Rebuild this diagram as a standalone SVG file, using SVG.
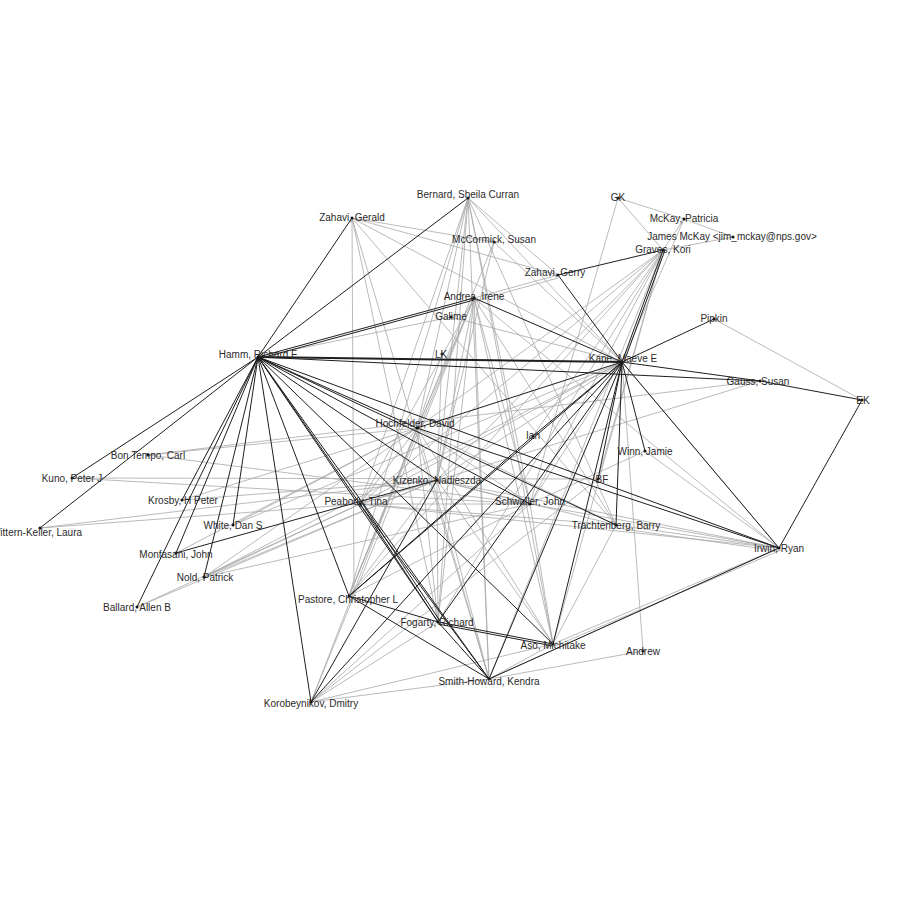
<svg xmlns="http://www.w3.org/2000/svg" width="900" height="900" viewBox="0 0 900 900">
<style>
.d{stroke:#1e1e1e;stroke-width:1;fill:none}
.w{stroke:#1e1e1e;stroke-width:2;fill:none}
.g{stroke:#a8a8a8;stroke-width:0.8;fill:none}
text{font-family:"Liberation Sans",Arial,sans-serif;font-size:10px;fill:#2a2a2a;text-anchor:middle}
circle{fill:#111}
</style>
<rect width="900" height="900" fill="#fff"/>
<g id="edges">
<!-- gray edges -->
<line class="g" x1="468" y1="198" x2="360" y2="504"/>
<line class="g" x1="468" y1="198" x2="437" y2="480"/>
<line class="g" x1="468" y1="198" x2="417" y2="428"/>
<line class="g" x1="468" y1="198" x2="349" y2="596"/>
<line class="g" x1="468" y1="198" x2="438" y2="622"/>
<line class="g" x1="468" y1="198" x2="489" y2="679"/>
<line class="g" x1="468" y1="198" x2="530" y2="504"/>
<line class="g" x1="468" y1="198" x2="622" y2="362"/>
<line class="g" x1="468" y1="198" x2="558" y2="275"/>
<line class="g" x1="468" y1="198" x2="553" y2="644"/>
<line class="g" x1="468" y1="198" x2="616" y2="525"/>
<line class="g" x1="352" y1="218" x2="494" y2="242"/>
<line class="g" x1="352" y1="218" x2="558" y2="275"/>
<line class="g" x1="352" y1="218" x2="622" y2="362"/>
<line class="g" x1="352" y1="218" x2="354" y2="596"/>
<line class="g" x1="352" y1="218" x2="438" y2="622"/>
<line class="g" x1="352" y1="218" x2="489" y2="679"/>
<line class="g" x1="352" y1="218" x2="616" y2="525"/>
<line class="g" x1="494" y1="242" x2="622" y2="362"/>
<line class="g" x1="494" y1="242" x2="349" y2="596"/>
<line class="g" x1="494" y1="242" x2="437" y2="480"/>
<line class="g" x1="474" y1="298" x2="558" y2="275"/>
<line class="g" x1="474" y1="301" x2="558" y2="278"/>
<line class="g" x1="474" y1="298" x2="360" y2="504"/>
<line class="g" x1="474" y1="298" x2="437" y2="480"/>
<line class="g" x1="474" y1="298" x2="417" y2="428"/>
<line class="g" x1="474" y1="298" x2="349" y2="596"/>
<line class="g" x1="474" y1="298" x2="438" y2="622"/>
<line class="g" x1="474" y1="298" x2="489" y2="679"/>
<line class="g" x1="474" y1="298" x2="553" y2="644"/>
<line class="g" x1="474" y1="298" x2="616" y2="525"/>
<line class="g" x1="474" y1="298" x2="530" y2="504"/>
<line class="g" x1="474" y1="298" x2="311" y2="702"/>
<line class="g" x1="474" y1="298" x2="779" y2="548"/>
<line class="g" x1="663" y1="250" x2="618" y2="198"/>
<line class="g" x1="663" y1="250" x2="684" y2="219"/>
<line class="g" x1="663" y1="250" x2="733" y2="237"/>
<line class="g" x1="663" y1="250" x2="417" y2="428"/>
<line class="g" x1="663" y1="250" x2="360" y2="504"/>
<line class="g" x1="663" y1="250" x2="437" y2="480"/>
<line class="g" x1="663" y1="250" x2="349" y2="596"/>
<line class="g" x1="663" y1="250" x2="438" y2="622"/>
<line class="g" x1="663" y1="250" x2="530" y2="504"/>
<line class="g" x1="663" y1="250" x2="598" y2="479"/>
<line class="g" x1="663" y1="250" x2="533" y2="436"/>
<line class="g" x1="663" y1="250" x2="489" y2="679"/>
<line class="g" x1="663" y1="250" x2="553" y2="644"/>
<line class="g" x1="684" y1="219" x2="622" y2="362"/>
<line class="g" x1="618" y1="198" x2="684" y2="219"/>
<line class="g" x1="618" y1="198" x2="530" y2="504"/>
<line class="g" x1="684" y1="219" x2="733" y2="237"/>
<line class="g" x1="258" y1="357" x2="451" y2="317"/>
<line class="g" x1="451" y1="317" x2="622" y2="362"/>
<line class="g" x1="714" y1="319" x2="862" y2="400"/>
<line class="g" x1="442" y1="354" x2="417" y2="428"/>
<line class="g" x1="442" y1="354" x2="437" y2="480"/>
<line class="g" x1="760" y1="381" x2="360" y2="504"/>
<line class="g" x1="760" y1="381" x2="148" y2="455"/>
<line class="g" x1="645" y1="451" x2="530" y2="504"/>
<line class="g" x1="645" y1="451" x2="779" y2="548"/>
<line class="g" x1="622" y1="362" x2="779" y2="548"/>
<line class="g" x1="148" y1="455" x2="417" y2="428"/>
<line class="g" x1="148" y1="455" x2="530" y2="504"/>
<line class="g" x1="72" y1="478" x2="598" y2="479"/>
<line class="g" x1="72" y1="478" x2="530" y2="504"/>
<line class="g" x1="182" y1="500" x2="437" y2="480"/>
<line class="g" x1="182" y1="500" x2="417" y2="428"/>
<line class="g" x1="40" y1="528" x2="437" y2="480"/>
<line class="g" x1="40" y1="528" x2="360" y2="504"/>
<line class="g" x1="233" y1="525" x2="417" y2="428"/>
<line class="g" x1="233" y1="525" x2="622" y2="362"/>
<line class="g" x1="176" y1="553" x2="417" y2="428"/>
<line class="g" x1="204" y1="577" x2="360" y2="504"/>
<line class="g" x1="204" y1="577" x2="437" y2="480"/>
<line class="g" x1="204" y1="577" x2="417" y2="428"/>
<line class="g" x1="204" y1="577" x2="530" y2="504"/>
<line class="g" x1="137" y1="607" x2="360" y2="504"/>
<line class="g" x1="137" y1="607" x2="437" y2="480"/>
<line class="g" x1="417" y1="428" x2="438" y2="622"/>
<line class="g" x1="417" y1="428" x2="489" y2="679"/>
<line class="g" x1="417" y1="428" x2="349" y2="596"/>
<line class="g" x1="417" y1="428" x2="311" y2="702"/>
<line class="g" x1="417" y1="428" x2="553" y2="644"/>
<line class="g" x1="417" y1="428" x2="616" y2="525"/>
<line class="g" x1="417" y1="428" x2="530" y2="504"/>
<line class="g" x1="437" y1="480" x2="779" y2="548"/>
<line class="g" x1="437" y1="480" x2="616" y2="525"/>
<line class="g" x1="437" y1="480" x2="530" y2="504"/>
<line class="g" x1="437" y1="480" x2="553" y2="644"/>
<line class="g" x1="437" y1="480" x2="489" y2="679"/>
<line class="g" x1="437" y1="480" x2="438" y2="622"/>
<line class="g" x1="437" y1="480" x2="349" y2="596"/>
<line class="g" x1="437" y1="480" x2="360" y2="504"/>
<line class="g" x1="360" y1="504" x2="616" y2="525"/>
<line class="g" x1="360" y1="504" x2="779" y2="548"/>
<line class="g" x1="360" y1="504" x2="530" y2="504"/>
<line class="g" x1="360" y1="504" x2="417" y2="428"/>
<line class="g" x1="616" y1="525" x2="779" y2="548"/>
<line class="g" x1="616" y1="528" x2="779" y2="551"/>
<line class="g" x1="616" y1="525" x2="553" y2="644"/>
<line class="g" x1="530" y1="504" x2="779" y2="548"/>
<line class="g" x1="530" y1="504" x2="553" y2="644"/>
<line class="g" x1="530" y1="504" x2="349" y2="596"/>
<line class="g" x1="530" y1="504" x2="311" y2="702"/>
<line class="g" x1="311" y1="702" x2="489" y2="679"/>
<line class="g" x1="311" y1="702" x2="553" y2="644"/>
<line class="g" x1="311" y1="702" x2="438" y2="622"/>
<line class="g" x1="311" y1="702" x2="598" y2="479"/>
<line class="g" x1="622" y1="362" x2="643" y2="651"/>
<line class="g" x1="553" y1="644" x2="779" y2="548"/>
<line class="g" x1="555" y1="646" x2="781" y2="550"/>
<line class="g" x1="489" y1="679" x2="779" y2="548"/>
<line class="g" x1="489" y1="679" x2="643" y2="651"/>
<line class="g" x1="489" y1="679" x2="553" y2="644"/>
<line class="g" x1="622" y1="362" x2="360" y2="504"/>
<line class="g" x1="622" y1="362" x2="437" y2="480"/>
<line class="g" x1="622" y1="362" x2="204" y2="577"/>
<line class="g" x1="622" y1="362" x2="530" y2="504"/>
<!-- dark edges -->
<line class="d" x1="258" y1="357" x2="352" y2="218"/>
<line class="d" x1="258" y1="357" x2="468" y2="198"/>
<line class="d" x1="258" y1="357" x2="474" y2="298"/>
<line class="d" x1="258" y1="359" x2="474" y2="300"/>
<line class="w" x1="258" y1="357" x2="622" y2="362"/>
<line class="d" x1="258" y1="357" x2="760" y2="381"/>
<line class="d" x1="258" y1="357" x2="72" y2="478"/>
<line class="d" x1="258" y1="357" x2="40" y2="528"/>
<line class="d" x1="258" y1="357" x2="182" y2="500"/>
<line class="d" x1="258" y1="357" x2="137" y2="607"/>
<line class="d" x1="258" y1="357" x2="176" y2="553"/>
<line class="d" x1="258" y1="357" x2="233" y2="525"/>
<line class="d" x1="258" y1="357" x2="204" y2="577"/>
<line class="d" x1="258" y1="357" x2="311" y2="702"/>
<line class="d" x1="258" y1="357" x2="349" y2="596"/>
<line class="d" x1="258" y1="357" x2="360" y2="504"/>
<line class="d" x1="258" y1="357" x2="438" y2="622"/>
<line class="d" x1="258" y1="357" x2="489" y2="679"/>
<line class="d" x1="258" y1="357" x2="437" y2="480"/>
<line class="d" x1="258" y1="357" x2="553" y2="644"/>
<line class="d" x1="258" y1="357" x2="530" y2="504"/>
<line class="d" x1="258" y1="357" x2="616" y2="525"/>
<line class="d" x1="258" y1="357" x2="779" y2="548"/>
<line class="d" x1="258" y1="357" x2="417" y2="428"/>
<line class="d" x1="622" y1="362" x2="474" y2="298"/>
<line class="d" x1="622" y1="362" x2="558" y2="275"/>
<line class="d" x1="622" y1="362" x2="663" y2="250"/>
<line class="d" x1="624" y1="362" x2="665" y2="250"/>
<line class="d" x1="622" y1="362" x2="714" y2="319"/>
<line class="d" x1="622" y1="362" x2="760" y2="381"/>
<line class="d" x1="760" y1="381" x2="862" y2="400"/>
<line class="d" x1="622" y1="362" x2="779" y2="548"/>
<line class="d" x1="862" y1="400" x2="779" y2="548"/>
<line class="d" x1="622" y1="362" x2="645" y2="451"/>
<line class="d" x1="622" y1="362" x2="616" y2="525"/>
<line class="d" x1="622" y1="362" x2="553" y2="644"/>
<line class="d" x1="622" y1="362" x2="489" y2="679"/>
<line class="d" x1="622" y1="362" x2="438" y2="622"/>
<line class="d" x1="622" y1="362" x2="349" y2="596"/>
<line class="d" x1="622" y1="362" x2="417" y2="428"/>
<line class="d" x1="622" y1="362" x2="533" y2="436"/>
<line class="d" x1="622" y1="362" x2="311" y2="702"/>
<line class="d" x1="622" y1="362" x2="598" y2="479"/>
<line class="d" x1="558" y1="275" x2="663" y2="250"/>
<line class="d" x1="360" y1="504" x2="438" y2="622"/>
<line class="d" x1="362" y1="503" x2="440" y2="621"/>
<line class="d" x1="360" y1="504" x2="489" y2="679"/>
<line class="d" x1="349" y1="596" x2="438" y2="622"/>
<line class="d" x1="438" y1="622" x2="553" y2="644"/>
<line class="d" x1="438" y1="624" x2="553" y2="646"/>
<line class="d" x1="349" y1="596" x2="489" y2="679"/>
<line class="d" x1="438" y1="622" x2="489" y2="679"/>
<line class="d" x1="311" y1="702" x2="437" y2="480"/>
<line class="d" x1="349" y1="596" x2="533" y2="436"/>
<line class="d" x1="176" y1="553" x2="437" y2="480"/>
<line class="d" x1="417" y1="428" x2="779" y2="548"/>
<line class="d" x1="489" y1="679" x2="779" y2="548"/>
</g>
<g id="n-bernard"><circle cx="468" cy="198" r="1.5"/><text x="468" y="197.5">Bernard, Sheila Curran</text></g>
<g id="n-zahavi-gerald"><circle cx="352" cy="218" r="1.5"/><text x="352" y="221">Zahavi, Gerald</text></g>
<g id="n-mccormick"><circle cx="494" cy="242" r="1.5"/><text x="494" y="242.5">McCormick, Susan</text></g>
<g id="n-gk"><circle cx="618" cy="198" r="1.5"/><text x="618" y="201">GK</text></g>
<g id="n-mckay-patricia"><circle cx="684" cy="219" r="1.5"/><text x="684" y="222">McKay, Patricia</text></g>
<g id="n-james-mckay"><circle cx="733" cy="237" r="1.5"/><text x="732" y="240">James McKay &lt;jim_mckay@nps.gov&gt;</text></g>
<g id="n-graves"><circle cx="663" cy="250" r="1.5"/><text x="663" y="252.5">Graves, Kori</text></g>
<g id="n-zahavi-gerry"><circle cx="558" cy="275" r="1.5"/><text x="555" y="276">Zahavi, Gerry</text></g>
<g id="n-andrea"><circle cx="474" cy="298" r="1.5"/><text x="474" y="300">Andrea, Irene</text></g>
<g id="n-galime"><circle cx="451" cy="317" r="1.5"/><text x="451" y="319.5">Galime</text></g>
<g id="n-pipkin"><circle cx="714" cy="319" r="1.5"/><text x="714" y="321.5">Pipkin</text></g>
<g id="n-hamm"><circle cx="258" cy="357" r="1.5"/><text x="258" y="357.5">Hamm, Richard F</text></g>
<g id="n-lk"><circle cx="442" cy="354" r="1.5"/><text x="441" y="357.5">LK</text></g>
<g id="n-kane"><circle cx="622" cy="362" r="1.5"/><text x="623" y="362">Kane, Maeve E</text></g>
<g id="n-gauss"><circle cx="760" cy="381" r="1.5"/><text x="758" y="384.5">Gauss, Susan</text></g>
<g id="n-ek"><circle cx="862" cy="400" r="1.5"/><text x="863" y="404">EK</text></g>
<g id="n-hochfelder"><circle cx="417" cy="428" r="1.5"/><text x="415" y="426.5">Hochfelder, David</text></g>
<g id="n-ian"><circle cx="533" cy="436" r="1.5"/><text x="533" y="438.5">Ian</text></g>
<g id="n-winn"><circle cx="645" cy="451" r="1.5"/><text x="645" y="454.5">Winn, Jamie</text></g>
<g id="n-kizenko"><circle cx="437" cy="480" r="1.5"/><text x="437" y="483.5">Kizenko, Nadieszda</text></g>
<g id="n-bf"><circle cx="598" cy="479" r="1.5"/><text x="602" y="482.5">BF</text></g>
<g id="n-bontempo"><circle cx="148" cy="455" r="1.5"/><text x="148" y="458.5">Bon Tempo, Carl</text></g>
<g id="n-kuno"><circle cx="72" cy="478" r="1.5"/><text x="72" y="481.5">Kuno, Peter J</text></g>
<g id="n-krosby"><circle cx="182" cy="500" r="1.5"/><text x="183" y="503.5">Krosby, H Peter</text></g>
<g id="n-peabody"><circle cx="360" cy="504" r="1.5"/><text x="356" y="505">Peabody, Tina</text></g>
<g id="n-schwaller"><circle cx="530" cy="504" r="1.5"/><text x="530" y="505">Schwaller, John</text></g>
<g id="n-trachtenberg"><circle cx="616" cy="525" r="1.5"/><text x="616" y="528.5">Trachtenberg, Barry</text></g>
<g id="n-wittern"><circle cx="40" cy="528" r="1.5"/><text x="36.5" y="535.5">Wittern-Keller, Laura</text></g>
<g id="n-white"><circle cx="233" cy="525" r="1.5"/><text x="233" y="528.5">White, Dan S</text></g>
<g id="n-monfasani"><circle cx="176" cy="553" r="1.5"/><text x="176" y="557.5">Monfasani, John</text></g>
<g id="n-irwin"><circle cx="779" cy="548" r="1.5"/><text x="779" y="551.5">Irwin, Ryan</text></g>
<g id="n-nold"><circle cx="204" cy="577" r="1.5"/><text x="205" y="580.5">Nold, Patrick</text></g>
<g id="n-ballard"><circle cx="137" cy="607" r="1.5"/><text x="137" y="610.5">Ballard, Allen B</text></g>
<g id="n-pastore"><circle cx="349" cy="596" r="1.5"/><text x="348" y="602.5">Pastore, Christopher L</text></g>
<g id="n-fogarty"><circle cx="438" cy="622" r="1.5"/><text x="437" y="625.5">Fogarty, Richard</text></g>
<g id="n-aso"><circle cx="553" cy="644" r="1.5"/><text x="553" y="648.5">Aso, Michitake</text></g>
<g id="n-andrew"><circle cx="643" cy="651" r="1.5"/><text x="643" y="654.5">Andrew</text></g>
<g id="n-smith-howard"><circle cx="489" cy="679" r="1.5"/><text x="489" y="684.5">Smith-Howard, Kendra</text></g>
<g id="n-korobeynikov"><circle cx="311" cy="702" r="1.5"/><text x="311" y="706.5">Korobeynikov, Dmitry</text></g>
</svg>
